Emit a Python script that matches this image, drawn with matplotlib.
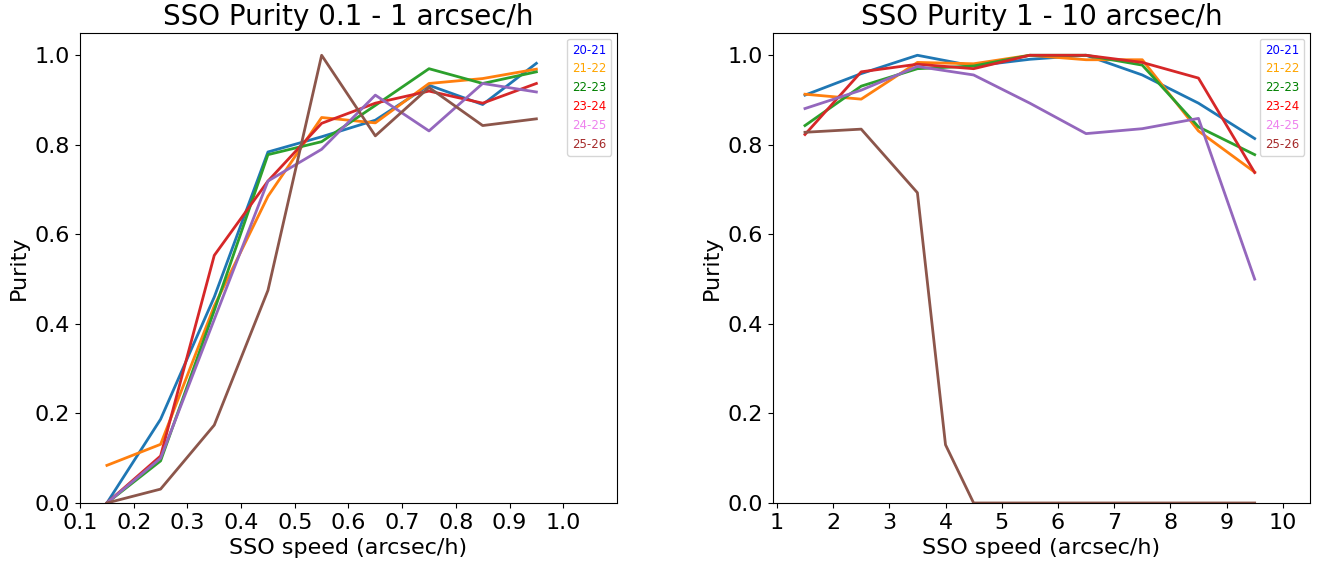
import numpy as np
import matplotlib
matplotlib.use('Agg')
import matplotlib.pyplot as plt

# seasons and the colours used for the legend text
seasons = ['20-21', '21-22', '22-23', '23-24', '24-25', '25-26']
label_colors = ['blue', 'orange', 'green', 'red', 'violet', 'brown']

# slow movers: 0.1 - 1 arcsec/h
speed_slow = [0.15, 0.25, 0.35, 0.45, 0.55, 0.65, 0.75, 0.85, 0.95]
purity_slow_2021 = [0.0, 0.187, 0.46, 0.784, 0.818, 0.855, 0.933, 0.890, 0.982]
purity_slow_2122 = [0.084, 0.131, 0.44, 0.685, 0.861, 0.849, 0.937, 0.948, 0.969]
purity_slow_2223 = [0.0, 0.094, 0.43, 0.778, 0.807, 0.888, 0.970, 0.937, 0.963]
purity_slow_2324 = [0.0, 0.105, 0.553, 0.719, 0.848, 0.893, 0.920, 0.893, 0.937]
purity_slow_2425 = [0.0, 0.100, 0.41, 0.719, 0.790, 0.911, 0.831, 0.937, 0.918]
purity_slow_2526 = [0.0, 0.031, 0.174, 0.475, 1.0, 0.820, 0.928, 0.843, 0.858]

# fast movers: 1 - 10 arcsec/h
speed_fast = [1.5, 2.5, 3.5, 4.5, 5.5, 6.5, 7.5, 8.5, 9.5]
purity_fast_2021 = [0.911, 0.959, 1.0, 0.976, 0.991, 1.0, 0.956, 0.893, 0.814]
purity_fast_2122 = [0.913, 0.902, 0.984, 0.981, 1.0, 0.990, 0.990, 0.831, 0.739]
purity_fast_2223 = [0.843, 0.931, 0.970, 0.976, 1.0, 1.0, 0.978, 0.840, 0.778]
purity_fast_2324 = [0.823, 0.963, 0.980, 0.970, 1.0, 1.0, 0.984, 0.949, 0.738]
purity_fast_2425 = [0.881, 0.922, 0.975, 0.956, 0.893, 0.825, 0.836, 0.859, 0.500]
speed_fast_2526 = [1.5, 2.5, 3.5, 4.0, 4.5, 5.5, 6.5, 7.5, 8.5, 9.5]
purity_fast_2526 = [0.828, 0.835, 0.693, 0.130, 0.0, 0.0, 0.0, 0.0, 0.0, 0.0]

slow = [purity_slow_2021, purity_slow_2122, purity_slow_2223,
        purity_slow_2324, purity_slow_2425, purity_slow_2526]
fast = [purity_fast_2021, purity_fast_2122, purity_fast_2223,
        purity_fast_2324, purity_fast_2425, purity_fast_2526]
fast_x = [speed_fast] * 5 + [speed_fast_2526]

fig = plt.figure(figsize=(13.19, 5.63), dpi=100)
ax1 = fig.add_axes([0.0607, 0.1066, 0.407, 0.835])
ax2 = fig.add_axes([0.586, 0.1066, 0.407, 0.835])

for i, y in enumerate(slow):
    ax1.plot(speed_slow, y, color='C%d' % i, lw=2, label=seasons[i])
for i, y in enumerate(fast):
    ax2.plot(fast_x[i], y, color='C%d' % i, lw=2, label=seasons[i])

ax1.set_xlim(0.1, 1.1)
ax1.set_xticks(np.arange(0.1, 1.01, 0.1))
ax1.set_xticklabels(['%.1f' % t for t in np.arange(0.1, 1.01, 0.1)])
ax1.set_title('SSO Purity 0.1 - 1 arcsec/h', fontsize=20)

ax2.set_xlim(0.93, 10.48)
ax2.set_xticks(range(1, 11))
ax2.set_title('SSO Purity 1 - 10 arcsec/h', fontsize=20)

for ax in (ax1, ax2):
    ax.set_ylim(0, 1.05)
    ax.set_yticks([0.0, 0.2, 0.4, 0.6, 0.8, 1.0])
    ax.tick_params(labelsize=16)
    ax.set_xlabel('SSO speed (arcsec/h)', fontsize=16)
    ax.set_ylabel('Purity', fontsize=16)
    ax.legend(loc='upper right', fontsize=8.5, labelspacing=0.5,
              handlelength=0, handletextpad=0, labelcolor=label_colors)

plt.savefig('out.png', dpi=100)
